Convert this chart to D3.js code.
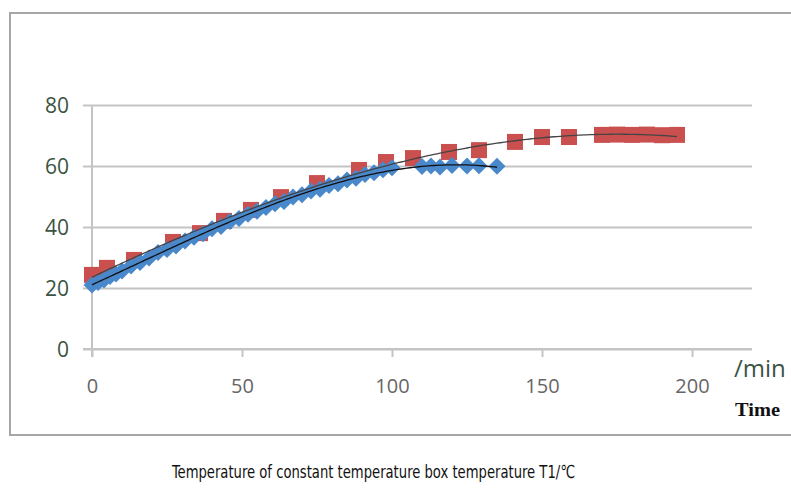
<!DOCTYPE html>
<html>
<head>
<meta charset="utf-8">
<script src="https://cdn.jsdelivr.net/npm/d3@7"></script>
<style>
  body { margin: 0; background: #fff; }
  svg { display: block; }
</style>
</head>
<body>
<div id="chart"></div>
<script>
// time (min) and temperature readings
var redTime = [0, 5, 14, 27, 36, 44, 53, 63, 75, 89, 98, 107, 119, 129, 141, 150, 159, 170, 175, 180, 185, 190, 195];
var redTemp = [24.3, 26.6, 29.2, 35.1, 38.0, 42.0, 45.6, 49.8, 54.4, 58.7, 61.3, 62.6, 64.6, 65.2, 67.9, 69.5, 69.5, 70.2, 70.3, 70.2, 70.3, 70.1, 70.2];

var blueTime = [0, 2, 4, 6, 8, 10, 13, 16, 19, 22, 25, 28, 31, 34, 37, 40, 43, 46, 49, 52, 55, 58, 61, 64, 67, 70, 73, 76, 79, 82, 85, 88, 91, 94, 97, 100,
  110, 113, 116, 120, 125, 129, 135];
var blueTemp = [21.0, 21.8, 22.6, 23.8, 24.6, 25.6, 27.2, 28.4, 29.8, 31.6, 32.6, 33.8, 35.4, 36.6, 37.8, 39.4, 40.2, 41.8, 42.8, 44.2, 45.2, 46.4, 47.6, 48.4, 49.8, 50.6, 51.8, 52.4, 53.6, 54.2, 55.4, 56.0, 57.2, 57.8, 58.8, 59.4,
  59.8, 60.0, 59.7, 60.2, 60.0, 60.1, 59.9];

var xTicks = [0, 50, 100, 150, 200];
var yTicks = [0, 20, 40, 60, 80];

var w = 791, h = 488;
var svg = d3.select("#chart").append("svg").attr("width", w).attr("height", h);

// outer frame
svg.append("rect")
  .attr("x", 10).attr("y", 13).attr("width", 800).attr("height", 422)
  .attr("fill", "none").attr("stroke", "#a6a6a6").attr("stroke-width", 2);

var x = d3.scaleLinear().domain([0, 220]).range([92, 752]);
var y = d3.scaleLinear().domain([0, 80]).range([349, 105]);

// gridlines + y labels
var yAxis = d3.axisLeft(y).tickValues(yTicks).tickSize(-(752 - 83)).tickPadding(14);
var gy = svg.append("g").attr("transform", "translate(83,0)").call(yAxis);
gy.select(".domain").remove();
gy.selectAll(".tick line").attr("stroke", "#c4c4c4").attr("stroke-width", 2);
gy.selectAll(".tick text")
  .attr("fill", "#3a5342").attr("font-family", "'Open Sans', sans-serif").attr("font-size", 21)
  .attr("dy", "0.36em");

// vertical axis line
svg.append("line").attr("x1", 92).attr("x2", 92).attr("y1", 105).attr("y2", 357)
  .attr("stroke", "#c4c4c4").attr("stroke-width", 2);

// x axis
var xAxis = d3.axisBottom(x).tickValues(xTicks).tickSize(8).tickPadding(22).tickSizeOuter(0);
var gx = svg.append("g").attr("transform", "translate(0,349)").call(xAxis);
gx.select(".domain").attr("stroke", "#c4c4c4").attr("stroke-width", 2).attr("d", "M83,0H752");
gx.selectAll(".tick line").attr("stroke", "#c4c4c4").attr("stroke-width", 2);
gx.selectAll(".tick text")
  .attr("fill", "#666").attr("font-family", "'Open Sans', sans-serif").attr("font-size", 20);

// least squares polynomial, like the excel trendline
function polyFit(xs, ys, order) {
  var n = order + 1;
  var A = [], b = [];
  for (var i = 0; i < n; i++) {
    A.push(new Array(n).fill(0));
    b.push(0);
  }
  xs.forEach(function (xv, k) {
    for (var i = 0; i < n; i++) {
      for (var j = 0; j < n; j++) A[i][j] += Math.pow(xv, i + j);
      b[i] += ys[k] * Math.pow(xv, i);
    }
  });
  for (var c = 0; c < n; c++) {
    var p = c;
    for (var r = c + 1; r < n; r++) if (Math.abs(A[r][c]) > Math.abs(A[p][c])) p = r;
    var t = A[c]; A[c] = A[p]; A[p] = t;
    var tb = b[c]; b[c] = b[p]; b[p] = tb;
    for (var r2 = c + 1; r2 < n; r2++) {
      var f = A[r2][c] / A[c][c];
      for (var j2 = c; j2 < n; j2++) A[r2][j2] -= f * A[c][j2];
      b[r2] -= f * b[c];
    }
  }
  var coef = new Array(n).fill(0);
  for (var i2 = n - 1; i2 >= 0; i2--) {
    var s = b[i2];
    for (var j3 = i2 + 1; j3 < n; j3++) s -= A[i2][j3] * coef[j3];
    coef[i2] = s / A[i2][i2];
  }
  return function (xv) {
    return coef.reduce(function (acc, cf, i) { return acc + cf * Math.pow(xv, i); }, 0);
  };
}

var line = d3.line().x(function (d) { return x(d[0]); }).y(function (d) { return y(d[1]); });

// red squares
svg.append("g").selectAll("rect").data(redTime.map(function (t, i) { return [t, redTemp[i]]; }))
  .enter().append("rect")
  .attr("x", function (d) { return x(d[0]) - 8; })
  .attr("y", function (d) { return y(d[1]) - 8; })
  .attr("width", 16).attr("height", 16)
  .attr("fill", "#c9504f");

// blue diamonds
var dia = "M0,-8.5L8.5,0L0,8.5L-8.5,0Z";
svg.append("g").selectAll("path").data(blueTime.map(function (t, i) { return [t, blueTemp[i]]; }))
  .enter().append("path")
  .attr("d", dia)
  .attr("transform", function (d) { return "translate(" + x(d[0]) + "," + y(d[1]) + ")"; })
  .attr("fill", "#4a88cc");

// trendlines
var redFit = polyFit(redTime, redTemp, 3);
var blueFit = polyFit(blueTime, blueTemp, 3);
var redPts = d3.range(0, 195.5, 1).map(function (t) { return [t, redFit(t)]; });
var bluePts = d3.range(0, 135.5, 1).map(function (t) { return [t, blueFit(t)]; });

svg.append("path").attr("d", line(redPts)).attr("fill", "none")
  .attr("stroke", "#444").attr("stroke-width", 1.3);
svg.append("path").attr("d", line(bluePts)).attr("fill", "none")
  .attr("stroke", "#111").attr("stroke-width", 1.3);

// axis unit + names
svg.append("text").attr("x", 734).attr("y", 377).text("/min")
  .attr("fill", "#3a5342").attr("font-family", "'Open Sans', sans-serif").attr("font-size", 24);
svg.append("text").attr("x", 735).attr("y", 416).text("Time")
  .attr("fill", "#111").attr("font-family", "'Liberation Serif', serif").attr("font-size", 18)
  .attr("font-weight", "bold").attr("textLength", 45).attr("lengthAdjust", "spacingAndGlyphs");

svg.append("text").attr("x", 172).attr("y", 478)
  .text("Temperature of constant temperature box temperature T1/℃")
  .attr("fill", "#111").attr("font-family", "'DejaVu Sans Condensed', 'DejaVu Sans', sans-serif")
  .attr("font-size", 18).attr("textLength", 403).attr("lengthAdjust", "spacingAndGlyphs");
</script>
</body>
</html>
